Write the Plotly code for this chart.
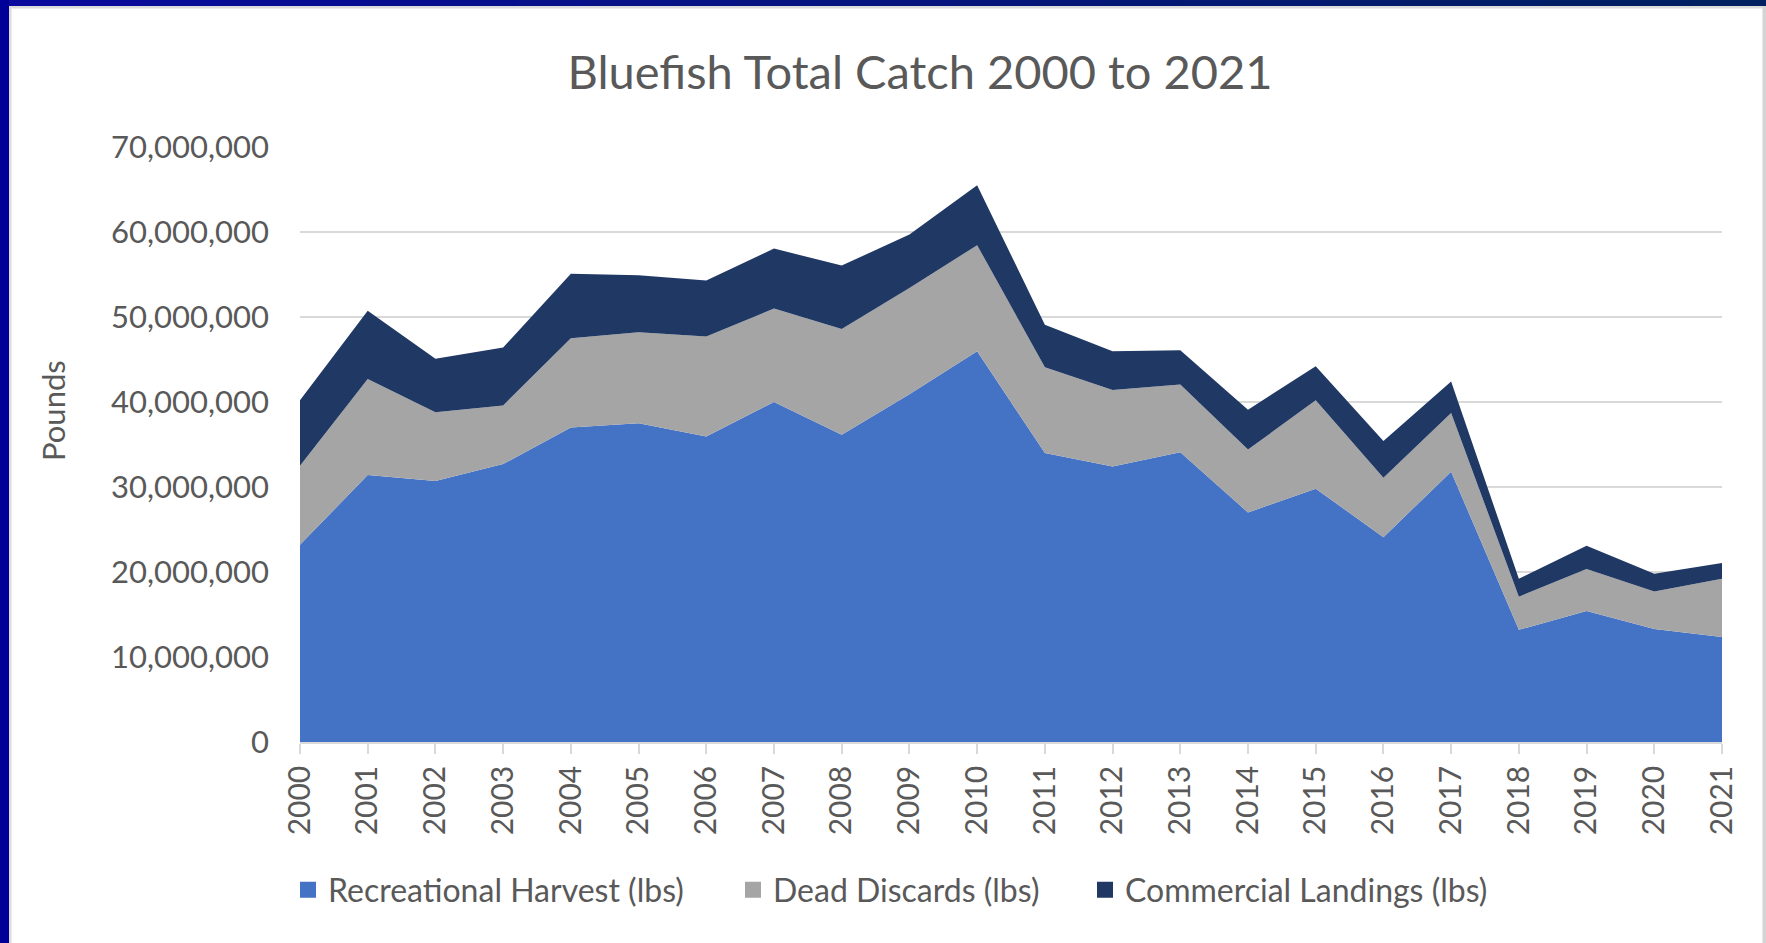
import plotly.graph_objects as go

# ---- data (millions of pounds) ----
years = list(range(2000, 2022))
recreational_harvest = [23.2, 31.4, 30.7, 32.7, 37.0, 37.5, 35.95, 40.0, 36.15, 40.9, 45.97,
                        34.0, 32.4, 34.1, 27.0, 29.8, 24.1, 31.8, 13.2, 15.4, 13.3, 12.35]
dead_discards = [9.3, 11.3, 8.1, 6.9, 10.5, 10.7, 11.75, 11.0, 12.45, 12.5, 12.48,
                 10.1, 9.0, 7.95, 7.4, 10.4, 7.0, 6.9, 3.9, 4.95, 4.4, 6.85]
commercial_landings = [7.7, 8.05, 6.3, 6.8, 7.6, 6.7, 6.6, 7.05, 7.45, 6.3, 7.05,
                       5.0, 4.57, 4.05, 4.7, 4.0, 4.3, 3.7, 2.1, 2.75, 2.1, 1.85]
series_names = ["Recreational Harvest (lbs)", "Dead Discards (lbs)", "Commercial Landings (lbs)"]
y_ticks = [0, 10e6, 20e6, 30e6, 40e6, 50e6, 60e6, 70e6]

colors = ["#4472C4", "#A5A5A5", "#203864"]
FONT = "Lato"
TXT = "#595959"
GRID = "#D9D9D9"

W, H = 1766, 943
L, R, T, B = 300, 44, 147, 201
PW, PH = W - L - R, H - T - B


def px_x(px):
    return (px - L) / PW


def px_y(py):
    return (H - B - py) / PH


fig = go.Figure()
for name, vals, col in zip(series_names, [recreational_harvest, dead_discards, commercial_landings], colors):
    fig.add_trace(go.Scatter(
        x=years, y=[v * 1e6 for v in vals], name=name, mode="none",
        stackgroup="one", fillcolor=col, showlegend=False, hoverinfo="x+y+name"))

# legend entries (square swatches), one legend each for exact placement
legend_keys = ["legend", "legend2", "legend3"]
legend_left_px = [288, 733, 1085]
for name, col, key in zip(series_names, colors, legend_keys):
    fig.add_trace(go.Scatter(
        x=[None], y=[None], name=name, mode="markers",
        marker=dict(symbol="square", size=16, color=col),
        showlegend=True, legend=key))

legend_common = dict(orientation="h", yanchor="middle", xanchor="left",
                     bgcolor="rgba(0,0,0,0)", borderwidth=0,
                     font=dict(family=FONT, size=32, color=TXT),
                     itemsizing="trace")
layout_legends = {}
for key, lx in zip(legend_keys, legend_left_px):
    layout_legends[key] = dict(legend_common, x=px_x(lx), y=px_y(890))

# frame shapes
shapes = []
# top strip gradient (blue -> navy)
n = 24
c0 = (0x0A, 0x0A, 0x9C)
c1 = (0x00, 0x20, 0x60)
for i in range(n):
    t = i / (n - 1)
    c = tuple(round(a + (b - a) * t) for a, b in zip(c0, c1))
    shapes.append(dict(type="rect", xref="paper", yref="paper",
                       x0=px_x(W * i / n), x1=px_x(W * (i + 1) / n + 1),
                       y0=px_y(0), y1=px_y(6), fillcolor="rgb(%d,%d,%d)" % c,
                       line=dict(width=0), layer="above"))
shapes.append(dict(type="rect", xref="paper", yref="paper", x0=px_x(9), x1=px_x(W),
                   y0=px_y(6), y1=px_y(8.5), fillcolor="#DCDCDC", line=dict(width=0)))
shapes.append(dict(type="rect", xref="paper", yref="paper", x0=px_x(0), x1=px_x(9),
                   y0=px_y(0), y1=px_y(H), fillcolor="#000099", line=dict(width=0), layer="above"))
shapes.append(dict(type="rect", xref="paper", yref="paper", x0=px_x(9), x1=px_x(11.5),
                   y0=px_y(6), y1=px_y(H), fillcolor="#DCDCDC", line=dict(width=0)))
shapes.append(dict(type="rect", xref="paper", yref="paper", x0=px_x(1762.5), x1=px_x(W),
                   y0=px_y(6), y1=px_y(H), fillcolor="#D4D4D4", line=dict(width=0)))

fig.update_layout(
    width=W, height=H,
    margin=dict(l=L, r=R, t=T, b=B, pad=0),
    paper_bgcolor="white", plot_bgcolor="white",
    title=dict(text="Bluefish Total Catch 2000 to 2021", x=920 / W, xanchor="center",
               xref="container", y=1 - 73 / H, yref="container", yanchor="middle",
               font=dict(family=FONT, size=47, color=TXT)),
    font=dict(family=FONT, color=TXT),
    shapes=shapes,
    annotations=[dict(text="Pounds", textangle=-90, xref="paper", yref="paper",
                      x=px_x(53), y=px_y(411), xanchor="center", yanchor="middle",
                      showarrow=False, font=dict(family=FONT, size=31, color=TXT))],
    **layout_legends,
)

fig.update_xaxes(
    range=[years[0], years[-1]], tickmode="array", tickvals=years,
    ticktext=[str(y) for y in years], tickangle=-90,
    ticks="outside", ticklen=10, tickwidth=1.5, tickcolor=GRID,
    showline=True, linecolor=GRID, linewidth=1.5, showgrid=False, zeroline=False,
    tickfont=dict(family=FONT, size=30, color=TXT),
)
fig.update_yaxes(
    range=[0, 70e6], tickmode="array", tickvals=y_ticks,
    ticktext=[f"{int(v):,}" for v in y_ticks],
    showgrid=True, gridcolor=GRID, gridwidth=1.5, zeroline=False, showline=False,
    ticks="", ticklabelstandoff=30,
    tickfont=dict(family=FONT, size=31, color=TXT),
)

fig.write_html("out.html")
